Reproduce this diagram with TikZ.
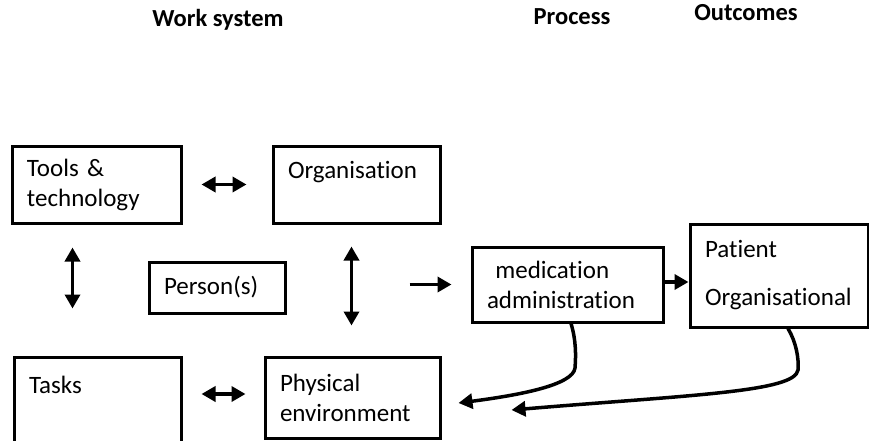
\documentclass[tikz,border=0pt]{standalone}
\usepackage{fontspec}
\setmainfont{Carlito}[Ligatures=NoCommon]
\usetikzlibrary{calc,arrows.meta}

\begin{document}
\begin{tikzpicture}[x=1pt,y=-1pt]
    \tikzstyle{every node}=[inner sep=0, font=\fontsize{25}{30}\selectfont]
    \tikzstyle{box}=[draw, line width=3pt, inner xsep=15pt, align=left]
    \tikzstyle{head}=[anchor=base, font=\fontsize{24.5}{28}\selectfont\bfseries]
    \tikzstyle{arr}=[line width=3.5pt, -{Triangle[length=14pt,width=15pt]}]
    \tikzstyle{dbl}=[line width=3.5pt, {Triangle[length=14pt,width=15pt]}-{Triangle[length=14pt,width=15pt]}]
    \useasboundingbox (0,0) rectangle (869,441);
    % headings
    \node[head] (WS) at (218,27) {Work system};
    \node[head] (PROC) at (572,25) {Process};
    \node[head] (OUTC) at (746,21) {Outcomes};
    % work system
    \node[box, text width=139pt, minimum height=77pt] (TT) at (96.5,184.5) {Tools \&\\technology};
    \node[box, text width=137pt, minimum height=77pt] (ORG) at (356.5,184.5) {Organisation\\~};
    \node[box, text width=106pt, minimum height=51pt] (PER) at (217,287.5) {Person(s)};
    \node[box, text width=137pt, minimum height=86pt] (TSK) at (97.5,400) {Tasks\\~};
    \node[box, text width=145pt, minimum height=81pt] (ENV) at (352.5,397.5) {Physical\\environment};
    % process and outcomes
    \node[box, text width=161pt, minimum height=75pt] (MED) at (567.5,284.5) {\ medication\\administration};
    \node[box, text width=148pt, minimum height=103pt] (OUT) at (779,275.5) {Patient\\[18pt]Organisational};
    \draw[dbl, shorten <=19pt, shorten >=25pt] (TT) -- (ORG);
    \draw[dbl, shorten <=19pt, shorten >=18pt] ([yshift=6pt]TSK.east) -- ([yshift=3.5pt]ENV.west);
    \draw[dbl, shorten <=23pt, shorten >=47pt] ([xshift=-24pt]TT.south) -- ([xshift=-24pt]TT.south |- TSK.north);
    \draw[dbl, shorten <=22pt, shorten >=30pt] ([xshift=-5pt]ORG.south) -- ([xshift=-5pt]ORG.south |- ENV.north);
    \draw[arr, shorten <=123pt, shorten >=19pt] (MED.west -| PER.east) -- (MED.west);
    \draw[arr] ([yshift=2.5pt]MED.east) -- ([yshift=2.5pt]MED.east -| OUT.west);
    % feedback
    \coordinate (E1) at ([shift={(17,5.5)}]ENV.east);
    \coordinate (E2) at ([shift={(70,12.5)}]ENV.east);
    \draw[arr] ([xshift=3.5pt]MED.south) .. controls (576,340) and (576,355) .. (575,368)
        .. controls (573,385) and (520,395) .. (E1);
    \draw[arr] ([xshift=9pt]OUT.south) .. controls (796,342) and (799,358) .. (798,370)
        .. controls (795,392) and (690,395) .. (E2);
\end{tikzpicture}
\end{document}
